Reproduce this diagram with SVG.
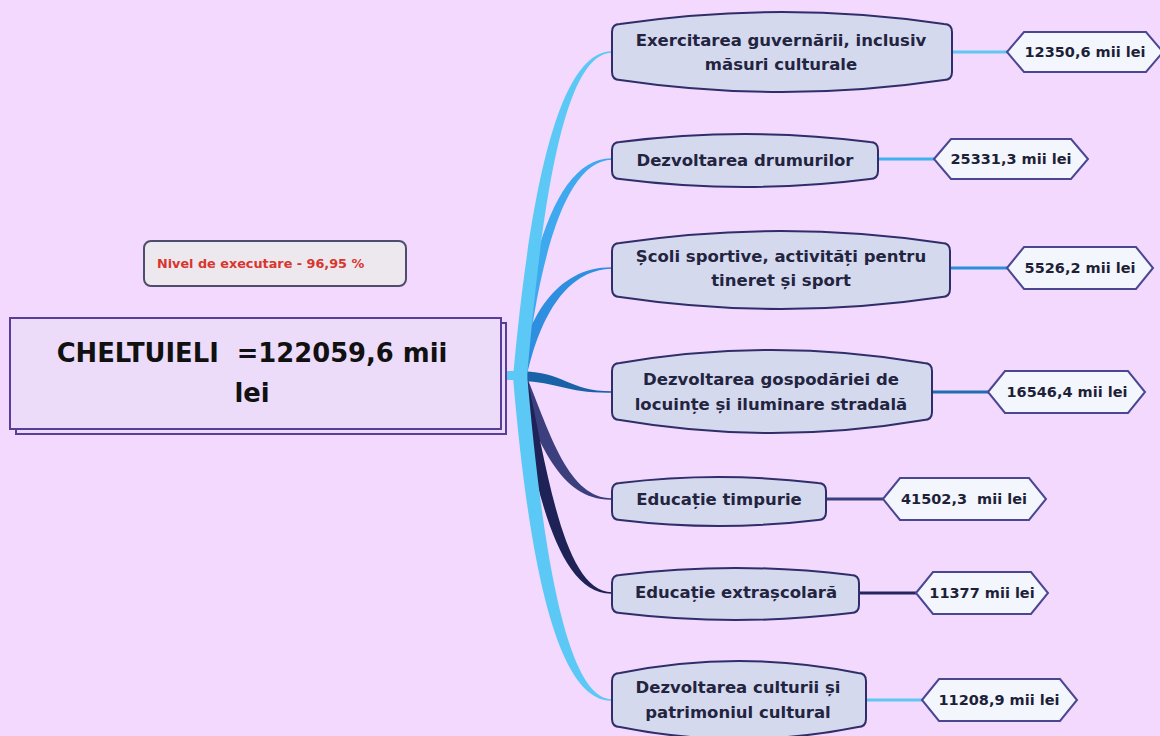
<svg xmlns="http://www.w3.org/2000/svg" width="1160" height="736" viewBox="0 0 1160 736">
<style>
.node{fill:#d5d9ee;stroke:#2f2e6a;stroke-width:2}
.val{fill:#f3f6fc;stroke:#4b4691;stroke-width:2}
.nt{font-family:"DejaVu Sans",sans-serif;font-weight:bold;font-size:16.5px;fill:#23243f;text-anchor:middle}
.vt{font-family:"DejaVu Sans",sans-serif;font-weight:bold;font-size:14.5px;fill:#1e1f38;text-anchor:middle}
.ln{fill:none;stroke-width:3}
</style>
<rect x="0" y="0" width="1160" height="736" fill="#f3d9fd"/>
<g id="connectors">
<path d="M 515 378 C 528 258, 556 158, 612 158.3 L 612 159.7 C 564 160.5, 539 262, 525 378 Z" fill="#3ea9ee"/>
<path d="M 515 378 C 527 318, 556 267, 612 267.3 L 612 268.7 C 564 269.5, 538 322, 526 380 Z" fill="#2e8ee0"/>
<path d="M 520 371 C 565 372, 568 391, 612 391.3 L 612 392.7 C 566 393.5, 560 382, 520 381 Z" fill="#1a62a8"/>
<path d="M 525 372 C 551 437, 569 498, 612 498.3 L 612 499.7 C 561 501, 538 443, 514 378 Z" fill="#3b3f7d"/>
<path d="M 526 373 C 547 467, 563 592, 612 592.3 L 612 593.7 C 554 595, 533 473, 515 377 Z" fill="#1e2256"/>
<path d="M 513 378 C 529 200, 557 51, 612 51.2 L 612 52.8 C 564 53, 542 202, 527 378 Z" fill="#5bc8f5"/>
<path d="M 527 373 C 542 547, 566 699, 612 699.3 L 612 700.7 C 555 702, 528 553, 513 377 Z" fill="#5bc8f5"/>
<rect x="505" y="371" width="22" height="9" fill="#5bc8f5"/>
<line class="ln" x1="952" y1="52" x2="1007" y2="52" stroke="#5ec8f2"/>
<line class="ln" x1="878" y1="159" x2="934" y2="159" stroke="#40b0ee"/>
<line class="ln" x1="950" y1="268" x2="1007" y2="268" stroke="#2b8fdc"/>
<line class="ln" x1="932" y1="392" x2="988" y2="392" stroke="#1e6db0"/>
<line class="ln" x1="826" y1="499" x2="883" y2="499" stroke="#3c3f7f"/>
<line class="ln" x1="859" y1="593" x2="916" y2="593" stroke="#252660"/>
<line class="ln" x1="866" y1="700" x2="922" y2="700" stroke="#5ec8f2"/>
</g>
<g id="nivel">
<rect x="144" y="241" width="262" height="45" rx="7" fill="#ece8ee" stroke="#4e4d6e" stroke-width="2"/>
<text x="157" y="268" font-family="DejaVu Sans, sans-serif" font-weight="bold" font-size="12.8" fill="#d9352f">Nivel de executare - 96,95 %</text>
</g>
<g id="root">
<rect x="16" y="323" width="490" height="111" fill="#eadbf7" stroke="#5a3d99" stroke-width="2"/>
<rect x="10" y="318" width="491" height="111" fill="#ecdcf9" stroke="#5a3d99" stroke-width="2"/>
<text x="252" y="362" font-family="DejaVu Sans, sans-serif" font-weight="bold" font-size="25.8" fill="#111" text-anchor="middle" xml:space="preserve">CHELTUIELI  =122059,6 mii</text>
<text x="252" y="402" font-family="DejaVu Sans, sans-serif" font-weight="bold" font-size="25.8" fill="#111" text-anchor="middle">lei</text>
</g>
<g id="n1">
<path class="node" d="M 620 24 Q 782 0 944 24 Q 952 24 952 32 L 952 72 Q 952 80 944 80 Q 782 104 620 80 Q 612 80 612 72 L 612 32 Q 612 24 620 24 Z"/>
<text class="nt" x="781" y="46">Exercitarea guvernării, inclusiv</text>
<text class="nt" x="781" y="70">măsuri culturale</text>
</g>
<g id="n2">
<path class="node" d="M 620 142 Q 745 126 870 142 Q 878 142 878 150 L 878 171 Q 878 179 870 179 Q 745 195 620 179 Q 612 179 612 171 L 612 150 Q 612 142 620 142 Z"/>
<text class="nt" x="745" y="166">Dezvoltarea drumurilor</text>
</g>
<g id="n3">
<path class="node" d="M 620 243 Q 781 219 942 243 Q 950 243 950 251 L 950 289 Q 950 297 942 297 Q 781 321 620 297 Q 612 297 612 289 L 612 251 Q 612 243 620 243 Z"/>
<text class="nt" x="781" y="262">Școli sportive, activități pentru</text>
<text class="nt" x="781" y="286">tineret și sport</text>
</g>
<g id="n4">
<path class="node" d="M 620 363 Q 772 337 924 363 Q 932 363 932 371 L 932 412 Q 932 420 924 420 Q 772 446 620 420 Q 612 420 612 412 L 612 371 Q 612 363 620 363 Z"/>
<text class="nt" x="771" y="385">Dezvoltarea gospodăriei de</text>
<text class="nt" x="771" y="410">locuințe și iluminare stradală</text>
</g>
<g id="n5">
<path class="node" d="M 620 483 Q 719 471 818 483 Q 826 483 826 491 L 826 512 Q 826 520 818 520 Q 719 532 620 520 Q 612 520 612 512 L 612 491 Q 612 483 620 483 Z"/>
<text class="nt" x="719" y="505">Educație timpurie</text>
</g>
<g id="n6">
<path class="node" d="M 620 575 Q 735.5 561 851 575 Q 859 575 859 583 L 859 605 Q 859 613 851 613 Q 735.5 627 620 613 Q 612 613 612 605 L 612 583 Q 612 575 620 575 Z"/>
<text class="nt" x="736" y="598">Educație extrașcolară</text>
</g>
<g id="n7">
<path class="node" d="M 620 673 Q 739 649 858 673 Q 866 673 866 681 L 866 719 Q 866 727 858 727 Q 739 751 620 727 Q 612 727 612 719 L 612 681 Q 612 673 620 673 Z"/>
<text class="nt" x="738" y="693">Dezvoltarea culturii și</text>
<text class="nt" x="738" y="718">patrimoniul cultural</text>
</g>
<g id="v1">
<polygon class="val" points="1007,52 1024,32 1146,32 1163,52 1146,72 1024,72"/>
<text class="vt" x="1085" y="57">12350,6 mii lei</text>
</g>
<g id="v2">
<polygon class="val" points="934,159 951,139 1071,139 1088,159 1071,179 951,179"/>
<text class="vt" x="1011" y="164">25331,3 mii lei</text>
</g>
<g id="v3">
<polygon class="val" points="1007,268 1024,247 1136,247 1153,268 1136,289 1024,289"/>
<text class="vt" x="1080" y="273">5526,2 mii lei</text>
</g>
<g id="v4">
<polygon class="val" points="988,392 1005,371 1128,371 1145,392 1128,413 1005,413"/>
<text class="vt" x="1067" y="397">16546,4 mii lei</text>
</g>
<g id="v5">
<polygon class="val" points="883,499 900,478 1029,478 1046,499 1029,520 900,520"/>
<text class="vt" x="964" y="504" xml:space="preserve">41502,3  mii lei</text>
</g>
<g id="v6">
<polygon class="val" points="916,593 933,572 1031,572 1048,593 1031,614 933,614"/>
<text class="vt" x="982" y="598">11377 mii lei</text>
</g>
<g id="v7">
<polygon class="val" points="922,700 939,679 1060,679 1077,700 1060,721 939,721"/>
<text class="vt" x="999" y="705">11208,9 mii lei</text>
</g>
</svg>
